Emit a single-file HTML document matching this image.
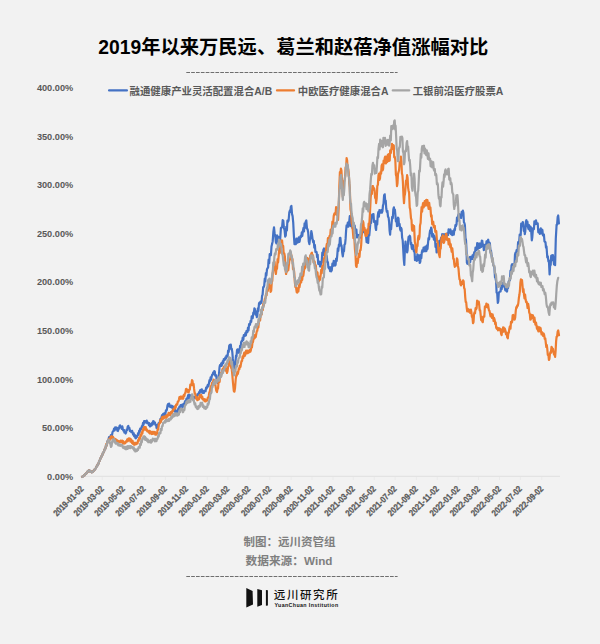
<!DOCTYPE html>
<html><head><meta charset="utf-8"><style>
html,body{margin:0;padding:0;background:#f2f2f2;}
body{width:600px;height:644px;overflow:hidden;position:relative;}
svg{position:absolute;left:0;top:0;}
.t{font-family:"Liberation Sans","Noto Sans CJK SC",sans-serif;}
</style></head><body>
<svg width="600" height="644" viewBox="0 0 600 644">
<rect width="600" height="644" fill="#f2f2f2"/>
<text class="t" x="293.3" y="53.9" text-anchor="middle" font-size="19.3" font-weight="bold" fill="#000">2019年以来万民远、葛兰和赵蓓净值涨幅对比</text>
<line x1="186.3" y1="72.5" x2="397.6" y2="72.5" stroke="#6e6e6e" stroke-width="1.2" stroke-dasharray="3.7 1.15"/>
<g class="t" font-size="10.4" font-weight="bold" fill="#595959">
<line x1="109.1" y1="90.4" x2="126.9" y2="90.4" stroke="#4472c4" stroke-width="2.3" stroke-linecap="round"/>
<text x="129.6" y="95">融通健康产业灵活配置混合A/B</text>
<line x1="277" y1="90.4" x2="294" y2="90.4" stroke="#ed7d31" stroke-width="2.3" stroke-linecap="round"/>
<text x="297.8" y="95">中欧医疗健康混合A</text>
<line x1="392.8" y1="90.4" x2="409.2" y2="90.4" stroke="#a5a5a5" stroke-width="2.3" stroke-linecap="round"/>
<text x="412.7" y="95">工银前沿医疗股票A</text>
</g>
<g class="t" font-size="9.9" font-weight="bold" fill="#595959" text-anchor="end">
<text transform="translate(73.2 480.0) scale(0.93 1)">0.00%</text>
<text transform="translate(73.2 431.4) scale(0.93 1)">50.00%</text>
<text transform="translate(73.2 382.7) scale(0.93 1)">100.00%</text>
<text transform="translate(73.2 334.1) scale(0.93 1)">150.00%</text>
<text transform="translate(73.2 285.4) scale(0.93 1)">200.00%</text>
<text transform="translate(73.2 236.8) scale(0.93 1)">250.00%</text>
<text transform="translate(73.2 188.2) scale(0.93 1)">300.00%</text>
<text transform="translate(73.2 139.5) scale(0.93 1)">350.00%</text>
<text transform="translate(73.2 90.9) scale(0.93 1)">400.00%</text>
</g>
<line x1="80" y1="476.3" x2="560" y2="476.3" stroke="#e3e3e3" stroke-width="1.2"/>
<path d="M82.0 477v3M102.3 477v3M123.2 477v3M144.1 477v3M165.4 477v3M186.4 477v3M207.3 477v3M227.9 477v3M248.9 477v3M269.8 477v3M291.1 477v3M312.0 477v3M333.0 477v3M353.2 477v3M374.2 477v3M395.1 477v3M416.4 477v3M437.3 477v3M458.3 477v3M478.5 477v3M499.5 477v3M520.4 477v3M541.7 477v3" stroke="#eaeaea" stroke-width="1" fill="none"/>
<g class="t" font-size="9.0" font-weight="bold" fill="#595959" stroke="#595959" stroke-width="0.25" text-anchor="end">
<text transform="translate(84.2 489.5) rotate(-45) scale(0.84 1)">2019-01-02</text>
<text transform="translate(104.5 489.5) rotate(-45) scale(0.84 1)">2019-03-02</text>
<text transform="translate(125.4 489.5) rotate(-45) scale(0.84 1)">2019-05-02</text>
<text transform="translate(146.3 489.5) rotate(-45) scale(0.84 1)">2019-07-02</text>
<text transform="translate(167.6 489.5) rotate(-45) scale(0.84 1)">2019-09-02</text>
<text transform="translate(188.6 489.5) rotate(-45) scale(0.84 1)">2019-11-02</text>
<text transform="translate(209.5 489.5) rotate(-45) scale(0.84 1)">2020-01-02</text>
<text transform="translate(230.1 489.5) rotate(-45) scale(0.84 1)">2020-03-02</text>
<text transform="translate(251.1 489.5) rotate(-45) scale(0.84 1)">2020-05-02</text>
<text transform="translate(272.0 489.5) rotate(-45) scale(0.84 1)">2020-07-02</text>
<text transform="translate(293.3 489.5) rotate(-45) scale(0.84 1)">2020-09-02</text>
<text transform="translate(314.2 489.5) rotate(-45) scale(0.84 1)">2020-11-02</text>
<text transform="translate(335.2 489.5) rotate(-45) scale(0.84 1)">2021-01-02</text>
<text transform="translate(355.4 489.5) rotate(-45) scale(0.84 1)">2021-03-02</text>
<text transform="translate(376.4 489.5) rotate(-45) scale(0.84 1)">2021-05-02</text>
<text transform="translate(397.3 489.5) rotate(-45) scale(0.84 1)">2021-07-02</text>
<text transform="translate(418.6 489.5) rotate(-45) scale(0.84 1)">2021-09-02</text>
<text transform="translate(439.5 489.5) rotate(-45) scale(0.84 1)">2021-11-02</text>
<text transform="translate(460.5 489.5) rotate(-45) scale(0.84 1)">2022-01-02</text>
<text transform="translate(480.7 489.5) rotate(-45) scale(0.84 1)">2022-03-02</text>
<text transform="translate(501.7 489.5) rotate(-45) scale(0.84 1)">2022-05-02</text>
<text transform="translate(522.6 489.5) rotate(-45) scale(0.84 1)">2022-07-02</text>
<text transform="translate(543.9 489.5) rotate(-45) scale(0.84 1)">2022-09-02</text>
</g>
<g fill="none" stroke-width="2.2" stroke-linejoin="round" stroke-linecap="round">
<polyline stroke="#4472c4" points="82.3,476.8 82.8,476.1 83.4,476.1 83.9,475.3 84.5,475.2 85.0,474.1 85.6,474.1 86.1,473.7 86.7,472.6 87.2,472.6 87.8,471.2 88.4,471.4 88.9,470.3 89.4,470.4 90.0,471.4 90.5,471.1 91.1,472.1 91.6,472.3 92.1,471.6 92.5,472.0 93.0,471.5 93.6,470.5 94.2,470.5 94.8,469.2 95.4,468.7 95.9,468.2 96.5,466.5 97.0,466.3 97.6,464.7 98.1,464.3 98.6,463.4 99.2,461.2 99.7,460.7 100.3,458.8 100.8,457.8 101.3,457.0 101.9,455.5 102.4,454.8 103.0,452.9 103.5,452.4 104.0,451.5 104.6,449.3 105.2,448.9 105.7,447.0 106.2,445.0 106.8,445.4 107.4,441.2 107.9,441.0 108.4,440.3 109.0,437.3 109.5,437.0 110.1,437.5 110.8,435.2 111.4,435.7 111.9,435.7 112.5,432.3 113.0,431.3 113.5,431.1 114.1,428.5 114.7,430.4 115.2,427.3 115.8,428.5 116.3,427.5 116.8,428.2 117.4,430.8 118.0,431.0 118.5,427.7 119.0,428.8 119.6,425.9 120.1,425.4 120.7,427.2 121.2,426.9 121.7,428.8 122.3,426.4 122.8,428.6 123.3,430.5 123.9,429.9 124.4,432.5 125.0,432.1 125.5,433.5 126.1,432.7 126.6,429.5 127.2,430.0 127.7,426.7 128.3,425.9 128.8,427.9 129.4,427.9 129.9,431.0 130.4,431.3 130.9,430.8 131.5,432.2 132.1,430.8 132.6,432.4 133.1,434.6 133.7,433.3 134.2,436.2 134.8,435.0 135.3,437.8 135.9,438.3 136.4,436.2 136.9,437.0 137.5,435.7 138.1,433.2 138.6,434.8 139.2,430.7 139.7,432.2 140.2,428.7 140.8,429.1 141.3,429.3 141.9,426.0 142.4,426.9 143.0,422.8 143.5,424.9 144.1,421.0 144.6,421.0 145.1,422.5 145.7,421.1 146.2,422.5 146.7,420.5 147.3,423.2 147.8,422.6 148.3,422.6 148.9,425.1 149.4,423.2 150.0,426.5 150.5,425.9 151.1,424.2 151.6,425.5 152.2,422.6 152.7,424.5 153.2,421.1 153.8,421.5 154.4,423.4 154.9,422.4 155.4,424.9 156.0,425.1 156.6,427.9 157.1,427.5 157.6,424.5 158.2,426.3 158.7,423.0 159.3,423.3 159.8,421.5 160.4,418.9 160.9,420.5 161.5,417.2 162.1,415.1 162.6,417.3 163.2,413.8 163.7,415.8 164.2,413.3 164.8,413.9 165.3,414.5 165.9,410.4 166.4,410.7 166.9,409.7 167.5,405.4 168.0,404.1 168.6,406.1 169.1,403.5 169.6,406.6 170.2,406.8 170.8,405.7 171.3,407.4 171.8,405.7 172.4,406.3 172.9,409.0 173.5,406.8 174.0,409.6 174.6,411.5 175.1,409.7 175.7,411.7 176.2,412.3 176.8,410.7 177.3,412.3 177.8,410.7 178.4,408.4 178.9,409.6 179.4,406.7 180.0,408.2 180.6,405.1 181.1,405.2 181.7,406.5 182.2,404.6 182.8,406.9 183.3,406.3 183.8,403.5 184.4,404.8 184.9,401.8 185.4,400.9 185.9,400.9 186.5,398.5 187.1,399.9 187.6,397.6 188.2,395.1 188.7,398.3 189.2,394.7 189.8,395.4 190.3,397.7 190.9,395.4 191.4,398.3 192.0,395.5 192.5,397.6 193.0,398.2 193.6,397.1 194.1,398.1 194.7,396.9 195.2,397.6 195.7,397.9 196.3,395.9 196.8,397.5 197.4,394.4 197.9,394.9 198.5,394.5 199.0,392.2 199.6,393.4 200.1,390.2 200.7,390.0 201.2,391.5 201.8,389.4 202.3,392.9 202.8,392.2 203.4,390.9 203.9,392.9 204.4,390.9 205.0,391.1 205.6,391.2 206.1,387.7 206.6,388.6 207.2,386.7 207.8,384.8 208.4,386.4 209.0,383.0 209.5,380.2 210.1,381.2 210.6,377.3 211.2,379.7 211.7,376.3 212.2,374.7 212.7,374.7 213.3,372.3 213.8,374.0 214.3,371.0 214.8,371.5 215.2,375.6 215.7,375.0 216.2,375.2 216.7,380.5 217.2,380.1 217.7,383.0 218.3,381.0 219.0,374.3 219.5,367.5 220.0,365.0 220.6,365.8 221.2,363.4 221.7,365.8 222.3,363.7 222.8,361.2 223.3,363.1 223.8,359.0 224.3,359.0 224.8,359.8 225.4,357.3 225.9,358.6 226.5,355.5 227.0,356.3 227.6,356.5 228.1,350.5 228.7,351.9 229.2,345.9 229.8,344.9 230.3,348.5 230.8,344.6 231.3,349.3 231.8,348.8 232.3,352.1 232.8,358.2 233.3,362.0 233.9,363.7 234.4,370.0 234.9,366.6 235.5,362.0 236.0,355.7 236.5,356.7 237.0,350.1 237.5,349.3 238.0,352.4 238.5,349.7 239.0,352.8 239.5,353.2 240.1,345.9 240.6,347.4 241.2,341.9 241.7,340.9 242.2,341.2 242.7,337.7 243.3,339.9 243.8,335.1 244.3,335.6 244.8,335.9 245.3,333.2 245.9,335.4 246.4,331.2 246.9,331.7 247.4,332.2 248.0,327.7 248.5,330.5 249.1,324.2 249.6,325.1 250.1,324.2 250.6,320.8 251.2,321.8 251.7,316.3 252.2,317.2 252.7,318.2 253.3,312.5 253.8,313.6 254.4,308.4 254.9,309.2 255.5,314.7 256.2,311.5 256.8,317.2 257.3,315.8 257.9,308.4 258.4,310.9 259.0,303.6 259.5,302.6 260.0,304.0 260.5,301.6 261.0,303.0 261.5,302.5 262.1,295.7 262.6,294.6 263.2,287.0 263.7,287.0 264.2,285.7 264.8,278.7 265.3,281.5 265.9,273.2 266.4,275.5 267.0,269.3 267.5,268.4 268.1,267.4 268.6,259.7 269.2,263.2 269.7,254.2 270.3,255.3 270.9,255.2 271.5,246.6 272.1,244.1 272.7,241.2 273.4,231.7 274.0,227.3 274.6,233.2 275.3,236.2 275.9,242.2 276.5,243.4 277.1,235.4 277.7,236.6 278.3,241.4 279.0,237.2 279.6,240.4 280.2,238.9 280.9,228.2 281.5,227.3 282.1,227.3 282.7,220.1 283.3,220.8 283.9,227.7 284.6,230.2 285.2,236.6 285.8,235.4 286.3,226.8 286.9,230.4 287.4,220.7 288.0,221.7 288.6,220.5 289.3,212.4 289.9,210.5 290.4,211.9 290.8,206.8 291.4,206.0 292.0,213.9 292.6,216.1 293.2,222.3 293.9,235.9 294.5,244.1 295.1,241.0 295.8,244.1 296.4,238.5 297.0,238.8 297.6,242.6 298.2,242.2 298.8,237.3 299.5,241.9 300.1,238.5 300.7,235.8 301.2,236.9 301.8,232.4 302.3,235.8 302.9,231.0 303.5,227.9 304.0,231.3 304.6,223.3 305.1,227.7 305.7,221.7 306.3,220.4 307.0,228.6 307.6,229.2 308.2,232.5 308.8,241.6 309.4,244.1 310.0,238.6 310.7,238.4 311.3,231.0 311.9,233.8 312.6,239.3 313.2,242.2 313.8,241.0 314.3,247.7 314.9,245.1 315.4,252.0 316.0,251.6 316.6,252.1 317.1,257.1 317.7,254.7 318.2,264.0 318.8,262.8 319.4,261.7 320.0,266.4 320.6,266.5 321.2,261.7 321.7,262.5 322.3,252.6 322.8,255.5 323.4,249.7 324.0,248.5 324.5,254.8 325.1,251.4 325.6,256.5 326.2,255.3 326.8,256.2 327.3,262.1 327.9,262.1 328.4,267.4 329.0,268.4 329.6,267.3 330.1,271.2 330.7,267.3 331.2,271.3 331.8,270.2 332.4,263.5 333.1,265.9 333.7,260.9 334.4,261.6 335.0,265.7 335.6,264.8 336.1,258.5 336.7,261.0 337.3,254.9 337.8,248.4 338.3,251.0 338.9,244.5 339.4,246.1 339.9,238.0 340.4,237.8 341.0,245.2 341.6,245.5 342.2,252.6 342.8,256.4 343.4,251.7 344.0,251.2 344.5,244.5 345.1,244.0 345.6,238.9 346.1,230.5 346.6,225.4 347.2,226.7 347.8,222.7 348.4,226.7 349.0,223.8 349.8,216.1 350.3,216.6 350.8,226.2 351.3,225.4 351.9,224.4 352.5,228.2 353.0,224.1 353.6,226.9 354.1,229.0 354.7,225.6 355.2,230.0 355.8,233.0 356.4,229.6 356.9,237.5 357.5,236.2 358.1,235.0 358.6,237.4 359.2,235.0 359.8,236.2 360.4,237.5 361.0,230.3 361.6,234.6 362.2,231.6 362.8,228.7 363.4,232.1 363.9,228.7 364.5,230.0 365.0,233.0 365.6,232.2 366.1,236.2 366.6,242.1 367.1,236.9 367.6,242.5 368.2,242.9 368.8,231.9 369.3,235.3 369.9,228.5 370.5,221.7 371.1,223.0 371.7,215.6 372.3,214.5 372.9,217.5 373.5,214.2 374.0,222.0 374.6,220.7 375.1,222.1 375.6,228.0 376.1,230.0 376.6,221.2 377.2,224.4 377.7,216.1 378.3,212.1 378.9,216.6 379.4,210.1 380.0,211.4 380.6,212.7 381.2,210.1 381.8,212.7 382.4,211.4 383.0,205.3 383.5,203.9 384.1,195.3 384.7,194.3 385.2,201.4 385.7,200.6 386.2,208.3 386.8,211.7 387.4,210.8 388.0,216.7 388.6,217.6 389.1,222.0 389.6,230.7 390.1,234.7 390.6,227.1 391.1,229.1 391.6,223.0 392.2,216.8 392.8,218.3 393.3,209.6 393.9,207.4 394.4,210.9 394.9,209.8 395.4,215.2 395.9,221.5 396.5,219.3 397.0,226.1 397.5,225.9 398.0,217.6 398.5,218.3 399.0,225.3 399.6,223.9 400.1,229.2 400.6,230.5 401.1,227.9 401.6,229.2 402.1,237.5 402.7,240.4 403.2,249.3 403.8,259.6 404.3,264.9 404.9,249.6 405.5,241.6 406.0,249.0 406.6,247.2 407.1,252.5 407.6,250.2 408.1,241.1 408.6,236.9 409.1,238.0 409.7,235.7 410.2,236.9 410.7,244.2 411.2,242.8 411.7,247.8 412.2,249.0 412.8,245.0 413.3,246.2 413.9,251.5 414.5,250.2 415.0,260.2 415.6,260.2 416.2,257.1 416.8,260.9 417.4,254.4 418.0,255.6 418.6,259.8 419.1,255.3 419.7,263.0 420.3,261.8 420.8,254.9 421.3,258.2 421.8,252.5 422.4,250.0 423.0,251.7 423.6,247.5 424.2,247.8 424.8,251.2 425.4,246.6 425.9,251.1 426.5,250.9 427.0,245.3 427.5,248.8 428.0,243.1 428.5,238.0 429.1,239.4 429.6,233.8 430.1,230.3 430.6,233.0 431.1,227.6 431.6,229.2 432.2,236.7 432.7,235.4 433.3,234.2 433.9,239.7 434.4,236.0 435.0,238.5 435.5,246.9 436.1,243.9 436.6,252.5 437.1,251.6 437.6,245.0 438.1,246.2 438.7,247.4 439.3,240.9 439.9,245.8 440.5,241.6 441.1,237.7 441.6,242.4 442.2,234.2 442.8,235.4 443.4,238.3 444.0,234.2 444.5,239.7 445.1,238.5 445.7,235.9 446.3,238.1 446.9,233.7 447.5,233.8 448.1,235.1 448.6,229.4 449.2,232.7 449.8,230.7 450.4,229.4 451.0,234.2 451.6,231.4 452.2,235.1 452.8,233.9 453.3,230.9 453.8,234.7 454.4,229.1 454.9,230.2 455.4,225.1 455.9,226.1 456.5,224.3 457.0,217.6 457.6,220.9 458.2,215.2 458.8,213.9 459.4,217.6 459.9,214.5 460.5,216.8 461.1,218.1 461.7,211.8 462.3,215.1 462.9,210.6 463.4,213.0 463.9,222.2 464.4,223.0 464.9,225.2 465.5,238.0 466.0,240.1 466.4,247.5 466.9,262.6 467.4,263.8 468.0,259.9 468.6,263.8 469.1,261.1 469.7,257.2 470.2,262.1 470.8,256.8 471.4,258.0 472.0,258.9 472.5,255.3 473.1,258.9 473.7,254.8 474.3,252.1 474.9,254.9 475.5,247.6 476.1,248.6 476.7,249.8 477.2,243.0 477.8,249.1 478.4,244.0 479.0,243.5 479.5,248.0 480.1,243.7 480.7,247.1 481.2,246.9 481.8,240.5 482.3,240.9 482.8,246.0 483.3,244.6 483.8,250.2 484.3,249.4 484.9,244.8 485.4,245.5 486.0,246.6 486.5,241.4 487.1,244.2 487.7,240.9 488.2,239.7 488.8,243.6 489.3,242.4 489.9,243.4 490.5,252.1 491.0,250.6 491.6,256.0 492.2,259.9 492.8,260.2 493.3,265.1 493.9,266.0 494.4,267.5 495.0,277.4 495.5,278.0 496.1,281.2 496.6,292.6 497.2,293.3 497.8,303.0 498.3,301.3 498.8,292.8 499.3,292.1 500.0,291.5 500.6,291.4 501.1,284.8 501.7,289.2 502.3,283.8 502.9,283.0 503.5,286.5 504.1,283.6 504.7,286.9 505.3,290.2 505.9,287.5 506.4,291.1 507.0,291.5 507.6,287.0 508.1,288.0 508.7,281.5 509.3,280.7 509.9,280.1 510.5,270.5 511.0,272.0 511.6,265.2 512.2,264.1 512.8,267.8 513.4,264.1 514.0,266.7 514.5,265.1 515.0,254.6 515.5,252.7 516.0,253.9 516.6,250.0 517.1,251.2 517.6,250.2 518.1,242.2 518.6,241.9 519.1,242.8 519.7,234.5 520.2,235.7 520.7,235.1 521.2,223.7 521.7,223.3 522.2,226.1 522.8,222.0 523.3,224.8 523.8,230.8 524.3,229.0 524.8,234.1 525.3,231.2 525.9,221.6 526.4,220.2 526.9,226.2 527.4,221.6 527.9,226.4 528.4,228.8 529.0,225.1 529.5,229.5 530.0,230.8 530.5,226.6 531.0,227.9 531.8,240.3 532.3,237.2 532.9,229.5 533.4,227.9 533.9,229.2 534.4,221.4 534.9,221.7 535.5,224.2 536.0,220.4 536.6,223.8 537.2,223.3 537.7,223.3 538.3,232.3 538.8,231.0 539.3,229.7 539.8,233.9 540.3,232.6 540.8,228.4 541.4,233.4 541.9,229.5 542.4,230.0 542.9,235.2 543.4,235.7 543.9,234.5 544.5,241.5 545.0,241.9 545.5,242.4 546.0,247.7 546.5,246.5 547.3,257.4 547.8,256.2 548.4,261.4 548.9,260.5 549.6,274.5 550.1,265.9 550.7,265.0 551.2,255.8 551.8,255.3 552.4,260.2 552.9,255.2 553.5,259.0 554.0,264.3 554.6,261.5 555.1,265.2 555.8,238.8 556.6,224.8 557.1,224.7 557.7,216.9 558.2,215.5 558.9,223.3"/>
<polyline stroke="#ed7d31" points="82.3,476.8 82.8,476.1 83.4,476.1 83.9,475.3 84.5,475.2 85.0,474.1 85.6,474.1 86.1,473.7 86.7,472.6 87.2,472.6 87.8,471.2 88.4,471.4 88.9,470.3 89.4,470.4 90.0,471.4 90.5,471.1 91.1,472.1 91.6,472.3 92.1,471.6 92.5,472.0 93.0,471.5 93.6,470.5 94.2,470.5 94.8,469.2 95.4,468.7 95.9,468.2 96.5,466.5 97.0,466.3 97.6,464.7 98.1,464.3 98.6,463.4 99.2,461.2 99.7,460.7 100.3,458.8 100.8,457.8 101.3,457.0 101.9,455.5 102.4,454.8 103.0,452.9 103.5,452.4 104.0,451.5 104.6,449.3 105.2,448.9 105.7,447.0 106.2,444.0 106.8,445.5 107.4,442.1 107.9,441.0 108.4,440.9 109.0,438.8 109.5,439.3 110.0,439.8 110.5,437.0 111.0,438.5 111.5,436.2 112.0,436.7 112.5,438.4 113.0,436.7 113.6,438.9 114.1,438.9 114.6,438.6 115.2,440.8 115.8,439.3 116.3,442.7 116.9,440.1 117.4,442.2 117.9,442.7 118.5,441.0 119.0,442.5 119.6,441.3 120.1,441.9 120.6,440.6 121.2,442.0 121.7,441.1 122.2,440.6 122.8,443.3 123.3,441.2 123.9,443.6 124.5,442.3 125.0,443.3 125.5,442.9 126.1,441.1 126.7,441.6 127.2,439.4 127.8,441.3 128.3,438.9 128.8,438.4 129.4,440.2 129.9,438.5 130.4,441.6 131.0,439.4 131.5,441.1 132.1,443.1 132.6,440.9 133.2,444.0 133.7,442.5 134.2,444.8 134.8,444.3 135.4,442.8 135.9,444.3 136.4,442.8 137.0,443.3 137.5,443.5 138.1,440.2 138.6,441.0 139.1,437.9 139.7,439.4 140.2,436.7 140.8,434.4 141.3,435.8 141.8,432.2 142.4,433.4 142.9,429.0 143.5,430.4 144.0,427.1 144.6,427.0 145.1,429.4 145.7,427.0 146.2,430.2 146.7,429.2 147.3,431.4 147.8,431.3 148.3,430.8 148.9,432.6 149.4,430.8 149.9,433.5 150.5,431.5 151.0,433.5 151.6,434.0 152.1,431.9 152.7,434.0 153.2,431.9 153.8,433.7 154.3,432.4 154.9,431.9 155.4,434.7 155.9,433.3 156.5,434.6 157.1,433.1 157.6,429.2 158.2,429.8 158.7,424.6 159.3,423.7 159.9,423.1 160.4,419.9 160.9,421.9 161.5,419.3 162.1,417.2 162.6,419.3 163.2,416.7 163.7,418.4 164.2,416.6 164.8,417.2 165.3,417.6 165.9,415.7 166.4,417.8 166.9,415.2 167.5,416.6 168.0,415.0 168.6,412.9 169.1,415.0 169.7,413.2 170.2,415.3 170.8,412.2 171.3,412.8 171.8,413.4 172.4,410.6 172.9,411.2 173.5,408.7 174.0,408.5 174.5,409.1 175.1,406.2 175.6,407.9 176.2,404.5 176.7,404.1 177.2,404.7 177.8,401.5 178.3,401.7 178.9,399.8 179.4,397.1 180.0,398.9 180.6,396.6 181.1,396.5 181.7,398.7 182.2,396.5 182.8,398.7 183.3,398.7 183.8,394.9 184.4,396.1 184.9,393.3 185.4,393.2 186.0,389.0 186.5,388.9 187.1,391.5 187.6,389.9 188.1,392.4 188.7,392.2 189.2,389.8 189.8,389.7 190.3,384.6 190.9,384.6 191.4,385.2 192.0,380.1 192.5,380.8 193.0,385.4 193.6,384.1 194.1,388.9 194.7,393.5 195.2,393.4 195.8,397.6 196.3,399.0 196.9,397.1 197.4,400.2 197.9,399.8 198.5,398.3 199.0,399.3 199.6,395.2 200.1,396.9 200.7,395.4 201.2,394.8 201.8,398.3 202.3,396.7 202.9,399.6 203.4,399.8 203.9,399.2 204.5,401.1 205.0,399.2 205.6,401.5 206.1,400.9 206.7,399.6 207.2,400.6 207.8,397.8 208.3,397.6 208.8,395.7 209.4,392.3 209.9,391.1 210.4,388.0 210.9,386.1 211.4,387.1 212.0,382.8 212.5,385.3 213.0,381.7 213.7,379.6 214.3,380.3 214.8,384.9 215.2,383.9 215.7,387.0 216.3,390.8 217.0,392.0 217.5,388.6 218.0,388.6 218.5,382.9 219.0,382.0 219.6,382.0 220.1,376.0 220.7,376.8 221.2,372.5 221.8,373.3 222.3,369.7 222.8,368.6 223.4,369.2 223.9,366.7 224.5,368.3 225.0,367.0 225.5,366.5 226.0,371.0 226.5,370.8 227.0,373.0 227.5,371.3 228.1,366.9 228.6,366.3 229.2,361.3 229.7,360.3 230.2,363.8 230.7,363.1 231.2,368.1 231.7,368.3 232.3,374.7 233.0,383.0 233.8,391.0 234.4,391.7 235.0,388.3 235.7,379.3 236.3,375.0 236.8,375.7 237.3,372.0 237.8,374.0 238.3,371.7 238.8,368.4 239.4,369.1 239.9,365.5 240.5,366.9 241.0,363.7 241.5,361.0 242.1,360.9 242.6,356.3 243.2,358.0 243.7,355.0 244.3,352.6 245.0,355.8 245.6,352.8 246.1,350.7 246.7,353.5 247.2,350.7 247.8,353.1 248.3,351.5 248.8,350.6 249.3,352.3 249.9,349.9 250.4,351.6 250.9,350.1 251.4,345.3 251.9,347.5 252.5,342.4 253.0,342.2 253.5,338.3 254.0,336.0 254.6,338.4 255.1,334.8 255.7,337.1 256.2,334.3 256.8,331.1 257.3,330.8 257.9,325.5 258.4,327.5 258.9,321.4 259.5,319.8 260.1,320.5 260.6,315.1 261.2,314.4 261.7,314.5 262.2,308.6 262.8,310.1 263.3,303.5 263.8,305.8 264.3,302.0 264.9,298.6 265.5,298.2 266.1,293.8 266.6,295.4 267.2,287.5 267.8,290.9 268.4,285.1 269.0,284.0 269.5,288.1 270.1,285.9 270.6,291.8 271.2,290.7 271.8,281.9 272.3,281.0 272.9,271.0 273.4,268.9 274.0,260.9 274.6,262.1 275.3,271.2 275.9,274.0 276.5,267.9 277.0,268.7 277.6,259.1 278.1,262.3 278.7,255.3 279.3,248.5 279.8,252.8 280.4,244.6 280.9,244.9 281.5,240.4 282.1,240.6 282.6,247.2 283.2,246.0 283.7,253.8 284.3,253.4 284.9,256.7 285.5,269.7 286.1,274.0 286.7,268.9 287.2,271.3 287.8,266.5 288.3,270.2 288.9,264.6 289.5,259.6 290.2,259.2 290.8,253.4 291.4,255.4 291.9,260.4 292.5,258.9 293.0,269.2 293.6,268.4 294.2,272.0 294.8,281.9 295.4,287.0 296.0,287.3 296.7,292.1 297.3,292.6 297.9,288.1 298.4,291.5 299.0,285.1 299.5,287.3 300.1,283.3 300.6,280.6 301.2,282.4 301.7,275.0 302.2,279.8 302.7,274.3 303.3,275.9 303.8,272.1 304.4,266.5 304.9,268.4 305.5,260.8 306.0,263.8 306.6,259.0 307.2,257.9 307.9,264.7 308.5,264.6 309.1,258.5 309.6,263.3 310.2,255.3 310.7,256.9 311.3,253.4 311.9,252.7 312.4,257.3 313.0,255.3 313.5,262.1 314.1,260.9 314.7,261.8 315.2,267.7 315.8,265.4 316.3,271.8 316.9,272.1 317.5,272.4 318.2,281.8 318.8,281.4 319.4,276.7 320.0,279.8 320.6,275.8 321.2,269.9 321.7,273.1 322.3,266.1 322.8,269.6 323.4,264.6 324.0,258.1 324.5,261.3 325.1,253.0 325.6,253.9 326.2,247.8 326.8,243.8 327.3,247.1 327.9,238.2 328.4,243.2 329.0,238.5 329.6,235.8 330.1,237.2 330.7,229.7 331.2,234.9 331.8,229.2 332.4,221.7 333.1,224.2 333.7,216.1 334.4,213.6 335.0,213.0 335.5,214.3 336.1,207.0 336.6,208.3 337.1,215.2 337.6,212.0 338.1,220.0 338.7,208.2 339.3,186.7 339.9,172.0 340.4,173.5 340.9,168.5 341.4,170.2 342.0,180.0 342.8,197.0 343.4,193.0 343.9,181.9 344.5,180.0 345.0,177.9 345.6,167.3 346.1,167.8 346.6,158.1 347.1,160.2 347.7,168.9 348.2,169.0 348.7,172.5 349.3,183.4 349.8,187.6 350.5,209.4 351.1,212.1 351.7,223.0 352.3,224.5 352.9,231.6 353.4,238.2 353.9,235.7 354.4,239.3 354.9,248.9 355.5,254.6 356.0,265.7 356.6,266.9 357.1,259.1 357.7,263.0 358.3,258.0 358.9,253.7 359.5,257.0 360.0,250.3 360.6,250.2 361.2,244.6 361.8,233.1 362.3,229.2 362.9,221.0 363.4,222.6 363.9,229.9 364.5,227.8 365.0,232.0 365.5,235.8 366.0,230.7 366.5,235.8 367.0,234.5 367.6,229.0 368.1,233.3 368.6,223.7 369.2,225.0 369.7,217.9 370.2,208.0 370.7,197.0 371.3,192.7 371.9,193.9 372.4,186.1 373.0,186.1 373.5,189.7 374.1,188.2 374.6,190.7 375.1,197.9 375.6,194.5 376.1,203.2 376.7,198.5 377.3,186.2 377.9,184.6 378.5,175.2 379.0,173.7 379.5,179.8 380.0,178.3 380.5,172.0 381.1,173.6 381.6,165.9 382.1,164.4 382.6,170.5 383.1,169.0 383.6,160.7 384.2,163.1 384.7,158.1 385.2,156.6 385.7,163.5 386.2,162.8 386.7,156.5 387.3,161.9 387.8,155.0 388.5,154.2 389.1,160.9 389.7,160.5 390.2,150.3 390.8,153.2 391.4,148.8 392.0,143.8 392.7,149.0 393.3,145.0 393.8,145.6 394.2,157.3 394.7,156.6 395.3,159.8 395.9,174.8 396.4,176.5 397.0,186.1 397.5,183.3 398.0,174.0 398.5,172.1 399.1,170.2 399.7,162.2 400.3,165.4 400.9,156.6 401.4,161.3 401.9,173.3 402.4,175.2 402.9,182.1 403.5,196.2 404.0,203.2 404.5,195.9 405.0,194.0 405.5,187.6 406.0,180.7 406.6,180.9 407.1,175.2 407.6,177.7 408.1,187.6 408.6,190.7 409.1,192.7 409.7,207.5 410.2,209.4 411.0,218.3 411.5,220.0 412.0,229.6 412.5,230.7 413.0,225.1 413.6,229.6 414.1,226.1 414.8,241.6 415.3,244.1 415.9,250.4 416.4,252.5 416.9,246.4 417.5,246.2 418.0,238.5 418.5,235.9 419.0,239.4 419.5,236.9 420.0,225.5 420.6,223.0 421.1,213.6 421.6,207.2 422.1,211.6 422.6,205.9 423.1,203.0 423.7,207.3 424.2,204.3 424.7,201.1 425.2,205.7 425.7,201.2 426.3,199.8 426.9,205.5 427.4,200.1 428.0,204.3 428.6,208.8 429.2,202.9 429.8,208.8 430.4,207.4 431.1,216.7 431.6,215.4 432.2,224.3 432.7,223.0 433.2,221.7 433.8,227.4 434.3,226.1 434.8,225.8 435.3,232.0 435.8,230.7 436.3,231.3 436.9,240.0 437.4,241.6 437.9,243.7 438.4,251.2 438.9,254.0 439.7,257.1 440.2,248.1 440.7,248.7 441.2,241.6 441.7,237.1 442.3,241.3 442.8,235.4 443.3,236.0 443.8,242.8 444.3,241.6 444.8,237.7 445.4,237.3 445.9,233.8 446.4,233.9 447.0,240.0 447.5,240.0 448.1,238.8 448.6,244.3 449.2,239.0 449.8,243.1 450.3,247.2 450.7,244.2 451.2,248.6 451.7,251.7 452.3,248.3 452.8,253.3 453.3,258.9 453.8,258.9 454.3,264.2 454.8,266.8 455.4,264.0 455.9,265.7 456.4,265.4 456.9,258.3 457.4,259.5 457.9,265.7 458.5,268.6 459.0,275.0 459.5,279.4 460.0,279.7 460.5,284.3 461.0,285.4 461.6,281.9 462.1,282.8 462.6,283.9 463.1,280.3 463.6,281.2 464.1,287.8 464.7,289.2 465.2,296.8 465.7,302.0 466.2,302.3 466.7,307.6 467.2,311.3 467.8,308.9 468.3,310.7 468.8,311.7 469.3,309.7 469.8,310.7 470.3,313.0 470.9,309.7 471.4,312.3 471.9,316.9 472.5,317.6 473.0,323.2 473.5,322.3 474.0,314.4 474.5,312.3 475.0,313.3 475.6,308.2 476.1,309.2 476.6,308.3 477.1,300.7 477.6,301.4 478.1,304.2 478.7,301.5 479.2,304.5 479.7,310.4 480.2,310.3 480.7,315.4 481.2,320.2 481.8,317.4 482.3,321.6 482.8,322.2 483.3,316.6 483.8,317.0 484.3,316.6 484.9,306.5 485.4,306.1 485.9,307.1 486.4,303.5 486.9,304.5 487.4,307.3 488.0,304.5 488.5,307.6 489.0,310.5 489.5,310.9 490.0,313.9 490.5,316.4 491.1,313.9 491.6,315.4 492.1,318.0 492.6,314.4 493.1,317.0 493.6,321.0 494.2,318.2 494.7,320.1 495.2,324.0 495.7,322.6 496.2,327.8 496.8,328.8 497.4,327.7 498.0,330.3 498.6,329.4 499.1,328.2 499.5,330.1 500.0,329.0 500.5,328.9 501.1,333.9 501.6,335.2 502.1,329.7 502.6,332.2 503.1,327.4 503.7,327.5 504.2,331.4 504.8,328.5 505.4,330.5 506.0,334.2 506.6,332.5 507.2,337.3 507.8,338.3 508.3,333.4 508.8,332.8 509.3,329.0 509.9,326.3 510.5,328.7 511.0,321.8 511.6,322.7 512.1,322.1 512.7,315.2 513.2,315.0 513.7,319.4 514.2,317.1 514.7,319.6 515.2,317.4 515.8,310.4 516.3,307.2 516.8,307.7 517.3,305.3 517.8,305.7 518.3,303.3 518.9,297.6 519.4,294.8 519.9,291.0 520.4,282.7 520.9,279.3 521.4,283.9 522.0,280.2 522.5,285.5 523.0,291.8 523.5,289.0 524.0,294.8 524.5,298.4 525.1,294.7 525.6,299.5 526.1,302.1 526.6,301.6 527.1,304.1 527.6,308.0 528.2,303.8 528.7,307.2 529.2,312.5 529.8,313.9 530.3,319.6 530.8,319.5 531.3,314.8 531.8,315.0 532.3,317.8 532.9,315.4 533.4,318.1 533.9,321.8 534.4,317.5 534.9,321.2 535.4,324.7 536.0,322.5 536.5,325.8 537.0,328.7 537.5,326.5 538.0,330.5 538.5,331.4 539.1,327.3 539.6,327.4 540.1,331.3 540.6,328.2 541.1,332.1 541.6,334.5 542.2,332.4 542.7,333.6 543.2,336.0 543.7,333.6 544.2,335.2 544.7,338.8 545.3,338.4 545.8,342.9 546.3,347.0 546.8,345.1 547.3,349.1 547.8,354.9 548.4,354.3 548.9,360.0 549.4,359.0 549.9,354.2 550.4,352.2 550.9,352.9 551.5,346.8 552.0,347.6 552.5,351.5 553.0,348.8 553.5,352.2 554.0,354.4 554.6,354.4 555.1,356.9 555.6,351.0 556.1,341.4 556.6,336.7 557.1,336.5 557.7,331.5 558.2,330.5 559.0,335.2"/>
<polyline stroke="#a5a5a5" points="82.3,476.8 82.8,476.1 83.4,476.1 83.9,475.3 84.5,475.2 85.0,474.1 85.6,474.1 86.1,473.7 86.7,472.6 87.2,472.6 87.8,471.2 88.4,471.4 88.9,470.3 89.4,470.4 90.0,471.4 90.5,471.1 91.1,472.1 91.6,472.3 92.1,471.6 92.5,472.0 93.0,471.5 93.6,470.5 94.2,470.5 94.8,469.2 95.4,468.7 95.9,468.2 96.5,466.5 97.0,466.3 97.6,464.7 98.1,464.3 98.6,463.4 99.2,461.2 99.7,460.7 100.3,458.8 100.8,457.8 101.3,457.0 101.9,455.5 102.4,454.8 103.0,452.9 103.5,452.4 104.0,451.5 104.6,449.3 105.2,448.9 105.7,447.0 106.2,444.9 106.8,445.0 107.4,441.7 107.9,441.0 108.4,441.5 108.8,439.5 109.3,440.0 109.9,442.7 110.4,444.3 111.0,447.0 111.6,445.9 112.2,441.3 112.8,439.5 113.4,440.8 114.0,439.1 114.5,442.3 115.1,440.6 115.7,443.6 116.3,443.3 116.8,442.8 117.4,444.5 117.9,443.2 118.5,445.5 119.0,445.0 119.5,444.5 120.1,445.9 120.6,444.5 121.2,445.7 121.7,445.4 122.2,444.9 122.8,447.6 123.3,446.4 123.9,448.0 124.5,446.8 125.0,448.7 125.5,449.2 126.1,446.9 126.6,449.2 127.2,446.4 127.7,448.8 128.2,446.2 128.8,448.1 129.3,446.5 129.9,446.0 130.4,448.1 130.9,446.0 131.5,447.7 132.1,446.9 132.6,447.6 133.2,448.8 133.7,447.4 134.2,450.3 134.8,449.1 135.3,451.4 135.9,451.4 136.4,449.8 137.0,450.9 137.5,448.8 138.0,449.9 138.6,447.2 139.1,447.6 139.7,447.7 140.2,443.7 140.8,445.0 141.3,440.7 141.8,442.4 142.4,438.2 142.9,438.6 143.5,436.7 144.0,436.2 144.6,439.4 145.1,436.8 145.6,440.0 146.2,438.2 146.7,440.0 147.2,441.0 147.8,439.5 148.3,442.2 148.9,440.8 149.4,442.2 150.0,442.2 150.6,440.2 151.1,442.7 151.7,440.1 152.2,441.4 152.8,438.6 153.3,438.9 153.8,439.8 154.4,438.9 154.9,441.3 155.4,438.9 156.0,441.1 156.5,441.1 157.1,438.6 157.6,438.8 158.2,435.7 158.7,436.5 159.2,432.8 159.8,433.0 160.4,433.3 160.9,428.9 161.5,430.3 162.0,426.3 162.6,426.0 163.1,422.9 163.7,422.6 164.2,422.7 164.8,421.2 165.3,422.5 165.9,419.8 166.4,421.4 167.0,420.4 167.5,419.8 168.1,421.0 168.6,419.0 169.1,421.0 169.7,418.7 170.2,419.3 170.8,419.5 171.3,416.6 171.8,418.1 172.4,416.1 172.9,414.3 173.5,416.7 174.1,413.7 174.6,416.0 175.1,413.3 175.7,413.9 176.2,415.3 176.8,413.3 177.3,415.6 177.9,414.0 178.4,415.0 178.9,414.6 179.5,410.4 180.0,412.3 180.6,408.5 181.1,408.5 181.7,409.7 182.2,409.0 182.8,412.2 183.3,411.7 183.8,409.6 184.4,409.9 184.9,405.4 185.4,405.2 185.9,404.6 186.5,401.6 187.1,403.2 187.6,400.9 188.2,400.3 188.7,402.5 189.2,400.3 189.8,402.0 190.4,401.8 190.9,397.7 191.4,396.8 192.0,394.3 192.5,394.6 193.1,400.3 193.6,399.2 194.1,402.0 194.6,404.5 195.2,403.2 195.7,406.8 196.3,406.2 196.8,408.5 197.4,409.0 197.9,406.6 198.5,408.6 199.0,405.8 199.6,406.3 200.1,406.5 200.6,402.9 201.2,404.3 201.7,403.0 202.2,402.7 202.8,406.8 203.3,405.4 203.9,407.4 204.4,408.4 205.0,406.8 205.6,409.0 206.1,408.5 206.6,406.7 207.2,407.4 207.7,403.6 208.3,404.7 208.8,403.0 209.4,399.6 209.9,399.2 210.4,393.8 211.0,393.3 211.5,392.2 212.0,386.6 212.5,387.1 213.0,384.0 213.5,382.5 214.1,384.7 214.6,380.7 215.2,383.8 215.7,381.2 216.3,382.4 216.8,379.8 217.4,381.7 217.9,380.5 218.5,377.5 219.0,380.7 219.6,376.8 220.2,377.8 220.8,373.7 221.3,376.6 221.9,373.9 222.4,370.7 222.9,373.0 223.5,370.0 224.0,370.7 224.5,368.6 225.1,365.1 225.6,367.1 226.2,363.4 226.8,364.7 227.4,360.6 227.9,362.1 228.5,359.4 229.1,357.2 229.8,359.3 230.4,358.0 230.9,359.5 231.4,364.5 231.9,361.6 232.4,366.0 232.9,370.8 233.4,369.2 233.9,375.3 234.4,375.2 234.9,370.5 235.4,371.5 235.9,366.3 236.4,366.0 236.9,366.7 237.4,360.9 238.0,362.8 238.5,358.5 239.0,358.0 239.6,357.5 240.1,353.5 240.7,353.4 241.2,349.2 241.8,350.4 242.3,347.5 242.9,344.4 243.4,346.8 243.9,342.9 244.5,347.0 245.1,342.7 245.6,343.5 246.1,344.4 246.6,341.3 247.1,344.4 247.6,342.2 248.1,342.9 248.6,347.1 249.1,345.2 249.6,347.5 250.1,346.6 250.6,341.2 251.2,342.9 251.7,337.5 252.2,336.9 252.7,337.6 253.3,330.6 253.8,332.0 254.4,327.3 254.9,326.4 255.4,327.3 255.9,324.2 256.5,327.3 257.0,324.2 257.5,325.1 258.0,324.2 258.5,319.2 259.0,321.8 259.5,317.2 260.1,314.6 260.6,316.9 261.1,309.7 261.7,313.9 262.2,307.2 262.8,308.2 263.4,307.1 264.1,302.4 264.7,303.0 265.2,302.8 265.8,295.5 266.3,294.4 266.8,288.2 267.3,288.5 267.9,281.1 268.4,279.6 269.0,282.4 269.5,278.5 270.1,282.5 270.6,281.7 271.2,283.3 271.7,280.2 272.3,273.6 272.8,271.4 273.3,262.5 273.8,265.3 274.4,256.7 274.9,253.4 275.5,254.6 276.2,249.1 276.8,249.7 277.4,249.7 277.9,244.0 278.5,247.0 279.0,239.5 279.6,240.4 280.2,244.9 280.9,243.9 281.5,247.8 282.1,254.0 282.7,255.4 283.3,260.9 283.9,265.6 284.4,262.4 285.0,269.5 285.5,268.9 286.1,272.1 286.7,269.7 287.2,262.7 287.8,263.5 288.3,254.0 288.9,253.4 289.5,254.6 290.2,250.4 290.8,251.6 291.4,257.7 291.9,256.2 292.5,263.6 293.0,262.7 293.6,268.4 294.2,276.8 294.8,277.6 295.4,285.1 296.0,286.2 296.5,281.6 297.1,284.3 297.6,280.3 298.2,281.4 298.8,282.5 299.3,277.5 299.9,278.9 300.4,273.5 301.0,274.0 301.6,275.1 302.1,266.7 302.7,270.2 303.2,263.5 303.8,264.6 304.4,264.7 305.1,256.8 305.7,255.3 306.3,260.5 306.8,260.1 307.4,267.5 307.9,264.4 308.5,270.2 309.1,270.7 309.6,261.0 310.2,264.1 310.7,255.3 311.3,255.3 311.9,258.4 312.6,255.5 313.2,257.2 313.8,263.1 314.3,263.1 314.9,268.5 315.4,267.5 316.0,274.0 316.6,277.5 317.1,278.2 317.7,282.8 318.2,281.1 318.8,287.0 319.4,290.7 320.0,291.2 320.6,294.5 321.2,294.2 321.7,286.7 322.3,287.5 322.8,278.4 323.4,277.7 323.9,277.3 324.5,266.6 325.0,269.0 325.6,259.6 326.1,259.9 326.7,252.2 327.2,251.6 327.7,251.9 328.3,244.2 328.8,246.3 329.3,239.8 329.8,244.7 330.4,237.7 330.9,236.6 331.5,236.3 332.0,229.4 332.6,233.5 333.1,226.0 333.7,225.4 334.3,226.6 334.9,223.0 335.4,226.7 336.0,222.5 336.6,223.8 337.2,220.1 337.8,209.7 338.3,208.3 338.9,200.0 339.4,190.1 339.9,187.2 340.4,177.0 341.2,175.0 341.7,182.1 342.3,194.5 342.8,200.0 343.3,191.8 343.8,195.1 344.3,189.0 344.9,177.8 345.4,175.9 346.0,167.0 346.5,163.5 346.9,168.5 347.4,165.0 347.9,165.3 348.5,175.9 349.0,176.8 349.5,182.8 350.0,197.8 350.5,203.2 351.0,203.4 351.6,213.2 352.1,216.1 352.7,218.4 353.2,226.5 353.8,222.5 354.4,230.0 355.0,240.8 355.6,244.4 356.2,255.0 356.9,253.6 357.5,246.0 358.1,242.1 358.6,242.8 359.2,237.2 359.8,236.2 360.4,234.0 361.0,224.2 361.6,222.8 362.2,216.1 362.7,208.4 363.2,211.8 363.7,203.2 364.2,201.8 364.8,206.1 365.3,204.7 365.9,203.3 366.5,209.2 367.0,204.0 367.6,207.8 368.4,211.4 369.0,205.8 369.5,194.7 370.1,189.9 370.7,181.4 371.3,173.9 371.9,174.6 372.4,165.8 373.0,162.8 373.6,167.6 374.2,165.2 374.8,173.6 375.4,172.1 375.9,168.5 376.4,172.9 376.9,165.9 377.4,157.2 378.0,158.0 378.5,148.8 379.1,143.8 379.6,149.5 380.2,139.5 380.8,141.1 381.3,146.1 381.9,141.1 382.4,145.7 382.9,147.3 383.4,137.9 383.9,139.5 384.5,143.4 385.0,137.9 385.6,145.8 386.2,144.2 386.8,140.4 387.4,144.7 388.0,139.8 388.6,141.1 389.1,145.7 389.6,144.1 390.2,135.7 390.8,140.5 391.3,126.0 391.9,126.4 392.4,129.2 392.8,125.7 393.3,128.3 393.8,127.9 394.2,121.1 394.7,120.4 395.2,129.7 395.6,125.7 396.1,135.7 396.7,149.0 397.2,150.6 397.8,161.2 398.3,161.2 398.8,149.6 399.3,147.3 399.8,147.1 400.4,136.9 400.9,138.0 401.4,139.4 401.9,136.5 402.4,138.0 402.9,151.3 403.5,153.3 404.0,164.3 404.5,162.2 405.0,151.6 405.5,150.4 406.0,151.2 406.6,143.1 407.1,141.1 407.6,147.7 408.1,146.5 408.6,153.5 409.1,160.6 409.7,159.9 410.2,165.9 410.8,175.4 411.4,173.6 411.9,187.0 412.5,190.7 413.0,182.0 413.6,180.8 414.1,173.7 414.6,178.9 415.1,191.7 415.6,195.4 416.1,197.2 416.7,205.8 417.2,204.7 417.7,192.6 418.2,190.5 418.7,181.4 419.2,170.5 419.8,171.5 420.3,162.8 420.8,153.9 421.3,157.6 421.8,148.8 422.3,146.0 422.9,150.4 423.4,147.3 424.0,145.7 424.5,153.5 425.1,148.6 425.7,151.9 426.2,155.1 426.8,150.3 427.3,153.5 427.9,158.9 428.5,153.4 429.0,159.6 429.6,159.7 430.1,158.7 430.6,166.3 431.1,165.9 431.6,161.3 432.2,167.4 432.7,162.8 433.2,162.1 433.8,169.7 434.3,170.6 434.8,169.1 435.3,175.2 435.8,173.7 436.3,175.1 436.9,184.3 437.4,183.0 437.9,184.7 438.4,194.7 438.9,198.5 439.4,197.1 440.0,205.1 440.5,206.3 441.0,197.9 441.5,197.4 442.0,187.6 442.5,182.3 443.1,186.6 443.6,181.4 444.1,174.3 444.6,177.0 445.1,170.6 445.6,169.4 446.2,174.4 446.7,173.7 447.2,170.9 447.7,174.4 448.2,169.0 448.7,168.7 449.3,179.4 449.8,179.9 450.3,178.4 450.7,184.1 451.2,182.6 451.7,184.3 452.3,192.3 452.8,193.5 453.3,194.5 453.8,204.9 454.3,209.0 454.8,203.7 455.4,205.6 455.9,201.2 456.4,195.4 456.9,199.3 457.4,195.0 457.9,201.2 458.5,214.0 459.0,219.9 459.5,220.3 460.0,229.6 460.5,229.2 461.0,226.1 461.6,230.5 462.1,226.1 462.6,225.4 463.1,228.9 463.6,227.6 464.1,231.9 464.7,239.7 465.2,244.0 465.7,244.3 466.2,254.3 466.7,254.8 467.2,255.0 467.8,259.3 468.3,259.5 468.8,259.0 469.3,265.4 469.8,264.2 470.3,265.1 470.9,275.5 471.4,276.6 472.2,281.2 472.7,272.5 473.2,270.0 473.7,262.6 474.2,258.5 474.8,259.8 475.3,256.4 475.9,253.2 476.5,257.4 477.0,252.7 477.6,253.3 478.1,254.4 478.7,250.5 479.2,251.7 479.7,256.7 480.2,256.7 480.7,264.2 481.2,270.2 481.8,265.7 482.3,271.9 482.9,271.1 483.5,264.1 484.0,266.3 484.6,261.1 485.1,254.7 485.6,257.7 486.1,250.2 486.6,245.6 487.2,248.8 487.7,245.5 488.3,244.3 488.9,248.3 489.4,244.3 490.0,247.1 490.5,253.3 491.1,252.5 491.6,256.4 492.2,261.9 492.8,258.2 493.3,265.7 493.9,265.7 494.4,266.0 495.0,273.0 495.5,273.5 496.0,275.3 496.5,282.0 497.0,282.8 497.5,283.0 498.1,287.0 498.6,285.9 499.2,282.6 499.8,286.3 500.3,281.7 500.9,282.8 501.5,283.9 502.0,276.4 502.6,279.3 503.2,276.6 503.7,276.1 504.3,284.3 504.8,284.3 505.4,284.0 506.0,287.1 506.6,284.5 507.2,287.3 507.8,286.9 508.4,282.3 509.0,285.6 509.5,278.3 510.1,277.6 510.7,278.7 511.2,271.7 511.8,274.1 512.4,271.4 513.0,266.5 513.5,270.9 514.1,264.1 514.7,265.2 515.2,266.3 515.8,261.0 516.3,262.1 516.8,261.3 517.3,253.6 517.8,254.3 518.3,255.5 518.9,245.6 519.4,246.5 519.9,245.7 520.4,237.0 520.9,237.2 521.4,241.2 522.0,239.1 522.5,241.9 523.0,245.9 523.5,247.0 524.0,251.2 524.5,255.2 525.1,255.1 525.6,259.0 526.1,262.3 526.6,258.1 527.1,262.1 527.6,266.0 528.2,263.1 528.7,266.7 529.2,272.5 529.8,271.2 530.3,276.0 530.8,277.1 531.3,271.8 531.8,272.9 532.3,274.0 532.9,270.6 533.4,271.4 533.9,275.6 534.4,270.6 534.9,274.5 535.4,277.3 536.0,274.7 536.5,277.6 537.0,281.4 537.5,278.2 538.0,282.2 538.6,284.0 539.1,282.3 539.7,284.7 540.3,283.8 540.8,282.7 541.4,287.0 541.9,286.9 542.5,286.1 543.0,290.5 543.6,289.1 544.2,291.5 544.7,294.2 545.3,292.8 545.8,296.2 546.5,304.1 547.0,306.8 547.6,306.5 548.1,308.8 548.7,312.8 549.3,315.0 549.8,308.5 550.4,304.1 551.0,305.1 551.5,302.5 552.1,303.7 552.7,302.6 553.3,302.3 553.9,307.4 554.5,304.7 555.1,308.8 555.7,302.6 556.2,294.8 556.8,286.0 557.4,280.9 558.2,277.8"/>
</g>
<g class="t" font-size="11.5" font-weight="bold" fill="#7f7f7f" text-anchor="middle">
<text x="289.5" y="545.5">制图：远川资管组</text>
<text x="289" y="564.5" font-size="11.7">数据来源：Wind</text>
</g>
<line x1="186.3" y1="576.5" x2="397.6" y2="576.5" stroke="#6e6e6e" stroke-width="1.2" stroke-dasharray="3.7 1.15"/>
<g fill="#111">
<path d="M246.3 588L252.6 591L253 604.6L246.3 607.6Z"/>
<path d="M257.3 589L262 590.2L262 605L257.3 606.7Z"/>
<path d="M265.9 590L267.9 590.3L267.9 605.5L265.9 605.7Z"/>
</g>
<text class="t" x="273.8" y="599" font-size="11.5" font-weight="500" fill="#111" letter-spacing="1.6">远川研究所</text>
<text class="t" x="274.4" y="606.6" font-size="5.3" font-weight="bold" fill="#111" letter-spacing="0.38">YuanChuan Institution</text>
</svg>
</body></html>
